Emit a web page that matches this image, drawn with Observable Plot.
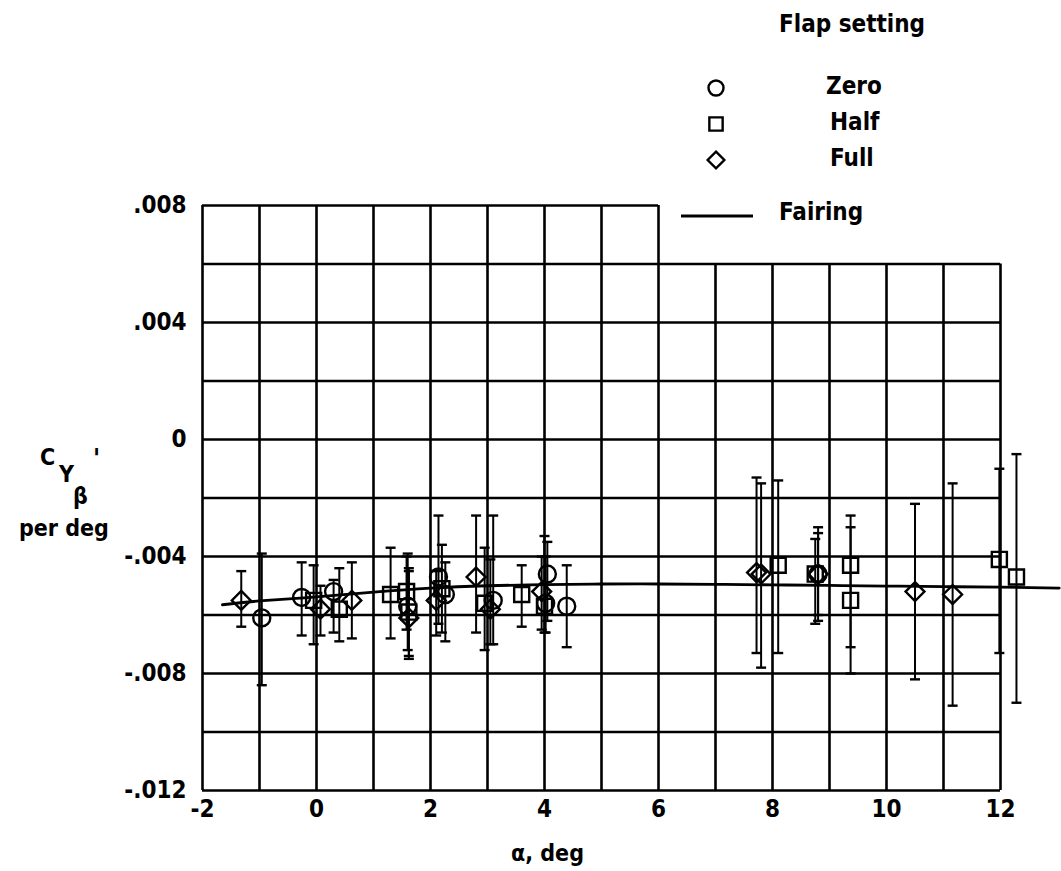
<!DOCTYPE html>
<html><head><meta charset="utf-8">
<script src="https://cdn.jsdelivr.net/npm/d3@7"></script>
<script src="https://cdn.jsdelivr.net/npm/@observablehq/plot@0.6"></script>
<style>
body{margin:0;background:#fff;}
#wrap{position:relative;width:1061px;height:871px;font-family:"DejaVu Sans Condensed","DejaVu Sans",sans-serif;font-weight:bold;color:#000;}
.t{position:absolute;white-space:nowrap;font-size:23px;line-height:1;}
#wrap svg.plot{position:absolute;left:0;top:0;}
</style></head><body><div id="wrap"></div>
<script>
// ---- data ----
const flapSettings = ["Zero", "Half", "Full"];

const zeroAlpha = [-0.96, -0.26, 0.30, 1.60, 2.14, 2.26, 3.10, 4.05, 4.02, 4.39, 8.80];
const zeroCy    = [-0.0061, -0.0054, -0.0052, -0.0057, -0.0047, -0.0053, -0.0055, -0.0046, -0.0056, -0.0057, -0.0046];
const zeroLo    = [-0.0084, -0.0067, -0.0066, -0.0072, -0.0063, -0.0069, -0.0070, -0.0062, -0.0066, -0.0071, -0.0060];
const zeroHi    = [-0.0039, -0.0042, -0.0048, -0.0039, -0.0026, -0.0042, -0.0026, -0.0035, -0.0040, -0.0043, -0.0032];

const halfAlpha = [-0.05, 0.40, 1.30, 1.58, 1.62, 2.20, 2.95, 3.60, 4.00, 8.10, 8.75, 9.37, 9.37, 11.98, 12.28];
const halfCy    = [-0.0055, -0.0058, -0.0053, -0.0052, -0.0059, -0.0051, -0.0056, -0.0053, -0.0057, -0.0043, -0.0046, -0.0043, -0.0055, -0.0041, -0.0047];
const halfLo    = [-0.0070, -0.0069, -0.0068, -0.0065, -0.0074, -0.0066, -0.0072, -0.0064, -0.0066, -0.0073, -0.0063, -0.0071, -0.0080, -0.0073, -0.0090];
const halfHi    = [-0.0043, -0.0044, -0.0037, -0.0040, -0.0044, -0.0036, -0.0037, -0.0043, -0.0033, -0.0014, -0.0034, -0.0026, -0.0030, -0.0010, -0.0005];

const fullAlpha = [-1.32, 0.07, 0.62, 1.62, 2.10, 2.80, 3.05, 3.95, 7.72, 7.80, 8.80, 10.50, 11.16];
const fullCy    = [-0.0055, -0.0058, -0.0055, -0.0061, -0.0055, -0.0047, -0.0058, -0.0052, -0.00455, -0.0046, -0.0046, -0.0052, -0.0053];
const fullLo    = [-0.0064, -0.0067, -0.0068, -0.0075, -0.0067, -0.0066, -0.0070, -0.0065, -0.0073, -0.0078, -0.0062, -0.0082, -0.0091];
const fullHi    = [-0.0045, -0.0050, -0.0042, -0.0045, -0.0045, -0.0026, -0.0041, -0.0040, -0.0013, -0.0015, -0.0030, -0.0022, -0.0015];

const fairAlpha = [-1.65, -1, 0, 1, 2, 3, 4, 5, 6, 7, 8, 9, 10, 11, 12, 13.03];
const fairCy    = [-0.00565, -0.00552, -0.00538, -0.00522, -0.00508, -0.00500, -0.00496, -0.00494, -0.00494, -0.00495, -0.00497, -0.00499, -0.00501, -0.00503, -0.00505, -0.00508];

const xTicks = [-2, 0, 2, 4, 6, 8, 10, 12];
const yTicks = [0.008, 0.004, 0, -0.004, -0.008, -0.012];
const gridX   = [-2, -1, 0, 1, 2, 3, 4, 5, 6, 7, 8, 9, 10, 11, 12];
const gridXTop = [0.008, 0.008, 0.008, 0.008, 0.008, 0.008, 0.008, 0.008, 0.008, 0.006, 0.006, 0.006, 0.006, 0.006, 0.006];
const gridY   = [-0.012, -0.010, -0.008, -0.006, -0.004, -0.002, 0, 0.002, 0.004, 0.006, 0.008];
const gridYEnd = [12, 12, 12, 12, 12, 12, 12, 12, 12, 12, 6];

// ---- tables ----
function rows(name, a, v, lo, hi) {
  return a.map((d, i) => ({flap: name, alpha: d, cy: v[i], lo: lo[i], hi: hi[i]}));
}
const points = [
  ...rows("Zero", zeroAlpha, zeroCy, zeroLo, zeroHi),
  ...rows("Half", halfAlpha, halfCy, halfLo, halfHi),
  ...rows("Full", fullAlpha, fullCy, fullLo, fullHi)
];
const fairing = fairAlpha.map((d, i) => ({alpha: d, cy: fairCy[i]}));
const gridV = gridX.map((d, i) => ({x: d, top: gridXTop[i]}));
const gridH = gridY.map((d, i) => ({y: d, end: gridYEnd[i]}));

const cap = {draw(ctx, size) { const r = Math.sqrt(size / Math.PI); ctx.moveTo(-r, 0); ctx.lineTo(r, 0); }};
const fmtY = d => d === 0 ? "0" : (d < 0 ? "-" : "") + d3.format(".3f")(Math.abs(d)).replace(/^0/, "");

const FONT = '"DejaVu Sans Condensed","DejaVu Sans",sans-serif';

const chart = Plot.plot({
  width: 1061,
  height: 871,
  marginLeft: 202,
  marginRight: 61,
  marginTop: 205,
  marginBottom: 81,
  style: {fontSize: "24px", fontFamily: FONT, fontWeight: "bold", color: "#000", background: "transparent", overflow: "visible"},
  x: {domain: [-2, 12], ticks: xTicks, tickFormat: d => String(d), tickSize: 0, tickPadding: 9, label: null},
  y: {domain: [-0.012, 0.008], ticks: yTicks, tickFormat: fmtY, tickSize: 0, tickPadding: 16, label: null},
  symbol: {domain: flapSettings, range: ["circle", "square", "diamond2"]},
  marks: [
    Plot.ruleX(gridV, {x: "x", y1: -0.012, y2: "top", stroke: "#000", strokeWidth: 2.6}),
    Plot.ruleY(gridH, {y: "y", x1: -2, x2: "end", stroke: "#000", strokeWidth: 2.6}),
    Plot.ruleX(points, {x: "alpha", y1: "lo", y2: "hi", stroke: "#000", strokeWidth: 2}),
    Plot.dot(points, {x: "alpha", y: "lo", symbol: cap, r: 5, stroke: "#000", strokeWidth: 2.4}),
    Plot.dot(points, {x: "alpha", y: "hi", symbol: cap, r: 5, stroke: "#000", strokeWidth: 2.4}),
    Plot.line(fairing, {x: "alpha", y: "cy", curve: "natural", stroke: "#000", strokeWidth: 2.8}),
    Plot.dot(points, {x: "alpha", y: "cy", symbol: "flap", r: 8.5, fill: "none", stroke: "#000", strokeWidth: 2.4})
  ]
});
chart.classList.add("plot");
const wrap = document.getElementById("wrap");
wrap.appendChild(chart);

// ---- overlays: axis labels and legend ----
function txt(s, x, y, extra) {
  const d = document.createElement("div");
  d.className = "t";
  d.innerHTML = s;
  d.style.left = x + "px";
  d.style.top = y + "px";
  if (extra) Object.assign(d.style, extra);
  wrap.appendChild(d);
  return d;
}
// y-axis label C_Yβ'
txt("C", 40, 446, {fontSize: "23px"});
txt("Y", 59, 463, {fontSize: "23px"});
txt("β", 73, 485, {fontSize: "23px"});
txt("'", 93, 446, {fontSize: "26px"});
txt("per deg", 19, 517, {fontSize: "23px"});
// x-axis label
txt("α, deg", 511, 842, {fontSize: "23px"});

// legend
txt("Flap setting", 779, 12, {fontSize: "24px"});
const legendItems = flapSettings.map((f, i) => ({f, y: [88, 124, 160][i], lx: [826, 830, 830][i]}));
for (const it of legendItems) {
  txt(it.f, it.lx, it.y - 14, {fontSize: "24px"});
}
const lsvg = d3.create("svg").attr("width", 60).attr("height", 200)
  .style("position", "absolute").style("left", "686px").style("top", "0px");
const symMap = {Zero: d3.symbolCircle, Half: d3.symbolSquare, Full: d3.symbolDiamond2};
for (const it of legendItems) {
  lsvg.append("path")
    .attr("d", d3.symbol(symMap[it.f], Math.PI * 7.5 * 7.5)())
    .attr("transform", `translate(30,${it.y})`)
    .attr("fill", "none").attr("stroke", "#000").attr("stroke-width", 2.4);
}
wrap.appendChild(lsvg.node());
const fsvg = d3.create("svg").attr("width", 80).attr("height", 10)
  .style("position", "absolute").style("left", "678px").style("top", "211px");
fsvg.append("line").attr("x1", 3).attr("x2", 75).attr("y1", 5).attr("y2", 5).attr("stroke", "#000").attr("stroke-width", 2.8);
wrap.appendChild(fsvg.node());
txt("Fairing", 779, 200, {fontSize: "24px"});
</script>
</body></html>
